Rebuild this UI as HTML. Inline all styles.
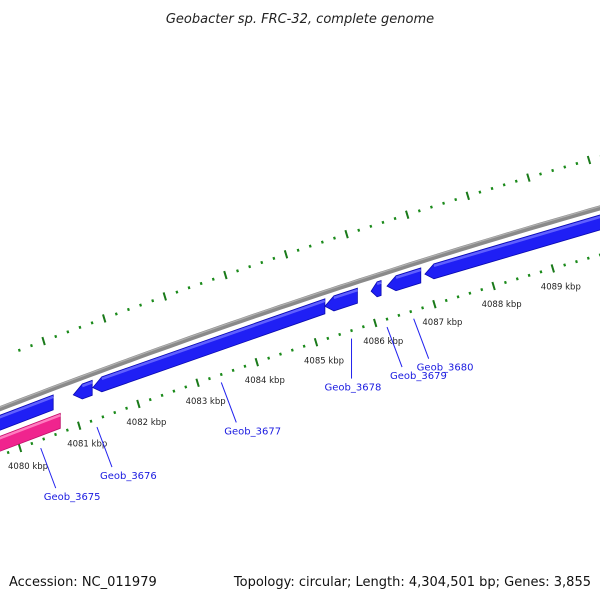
<!DOCTYPE html>
<html><head><meta charset="utf-8"><style>
body{margin:0;background:#fff}
svg{display:block;font-family:"DejaVu Sans","Liberation Sans",sans-serif}
</style></head><body>
<svg id="c" width="600" height="600" viewBox="0 0 600 600">
<text x="300" y="23" text-anchor="middle" font-size="13" font-style="italic" fill="#222">Geobacter sp. FRC-32, complete genome</text>
<g id="g"></g>
<text x="9" y="586" font-size="13" fill="#111">Accession: NC_011979</text>
<text x="591" y="586" font-size="13" fill="#111" text-anchor="end">Topology: circular; Length: 4,304,501 bp; Genes: 3,855</text>
</svg>
<script>
const geneStart=[4079.5,4079.5,4080.9,4081.23,4085.15,4085.93,4086.2,4086.84];
const geneEnd=[4080.68,4080.56,4081.22,4085.15,4085.7,4086.1,4086.77,4090.5];
const geneStrand=[-1,1,1,1,1,1,1,1];
const geneType=['pink','blue','blue','blue','blue','blue','blue','blue'];
const majorTicks=[4080,4081,4082,4083,4084,4085,4086,4087,4088,4089];
const tickLabels=['4080 kbp','4081 kbp','4082 kbp','4083 kbp','4084 kbp','4085 kbp','4086 kbp','4087 kbp','4088 kbp','4089 kbp'];
const geneNames=['Geob_3675','Geob_3676','Geob_3677','Geob_3678','Geob_3679','Geob_3680'];
const geneLabelPos=[4080.35,4081.3,4083.4,4085.6,4086.2,4086.65];

const NS='http://www.w3.org/2000/svg';
const g=document.getElementById('g');
function X(p){return 20+(p-4080)*59.2;}
function Y(x){return 455.7-0.386*x+0.0000855*x*x;}
function XO(p){return 589-(4089-p)*60.6;}
function mk(t,a){const e=document.createElementNS(NS,t);for(const k in a)e.setAttribute(k,a[k]);g.appendChild(e);return e;}

// backbone
let pts=[];for(let x=-10;x<=610;x+=10)pts.push(x+','+(Y(x)-47).toFixed(1));
let bb=mk('polyline',{points:pts.join(' '),fill:'none',stroke:'#8a8a8a','stroke-width':5});


let pts2=[];for(let x=-10;x<=610;x+=10)pts2.push(x+','+(Y(x)-48.5).toFixed(1));
let bb2=mk('polyline',{points:pts2.join(' '),fill:'none',stroke:'#b0b0b0','stroke-width':1.2});



// ticks inner and outer
for(let i=0;i<=55;i++){
  const p=4079.6+i*0.2;const pr=Math.round(p*5)/5;
  const major=Math.abs(pr-Math.round(pr))<0.01;
  [[X(pr),0],[XO(pr),-98]].forEach(([x,o],j)=>{
    if(x<-5||x>605)return;
    const y=Y(x)+o;
    let e;
    if(major) e=mk('line',{x1:x-1.2,y1:y-4,x2:x+1.2,y2:y+4,stroke:'#1a7a1a','stroke-width':2});
    else e=mk('line',{x1:x-0.4,y1:y-1.3,x2:x+0.4,y2:y+1.3,stroke:'#1a8a1a','stroke-width':2.2});
    
    
  });
}
majorTicks.forEach((p,i)=>{
  const x=X(p);
  const t=mk('text',{x:x-12,y:Y(x)+21,'font-size':8.5,fill:'#222'});
  t.textContent=tickLabels[i];
  
  
});

// genes
geneStart.forEach((s,i)=>{
  const x1=X(s),x2=X(geneEnd[i]);
  const pink=geneType[i]==='pink';
  const o=pink?-12:-33,h=7.5,tip=Math.min(9,(x2-x1)*0.6);
  const y=x=>Y(x)+o;
  let poly;
  if(pink) poly=[[x1,y(x1)-h],[x2,y(x2)-h],[x2,y(x2)+h],[x1,y(x1)+h]];
  else poly=[[x1,y(x1)],[x1+tip,y(x1+tip)-h],[x2,y(x2)-h],[x2,y(x2)+h],[x1+tip,y(x1+tip)+h]];
  const e=mk('polygon',{points:poly.map(p=>p[0].toFixed(1)+','+p[1].toFixed(1)).join(' '),fill:pink?'#f0248e':'#1f1ff5',stroke:pink?'#c0106a':'#0a0ab0','stroke-width':0.8});
  
  
  const hl=mk('line',{x1:x1+tip,y1:y(x1+tip)-h+2,x2:x2,y2:y(x2)-h+2,stroke:pink?'#ff7cc0':'#6060ff','stroke-width':2.5});
  
  
});

// gene labels
geneNames.forEach((n,i)=>{
  const x=X(geneLabelPos[i]);const y0=Y(x)+8;
  const dx=(i===3)?0:15;
  const l=mk('line',{x1:x,y1:y0,x2:x+dx,y2:y0+40,stroke:'#2222ee','stroke-width':1});
  
  
  const t=mk('text',{x:x+dx-(i===3?27:12),y:y0+52,'font-size':10,fill:'#1a1ae0'});
  t.textContent=n;
  
  
});
</script>
</body></html>
